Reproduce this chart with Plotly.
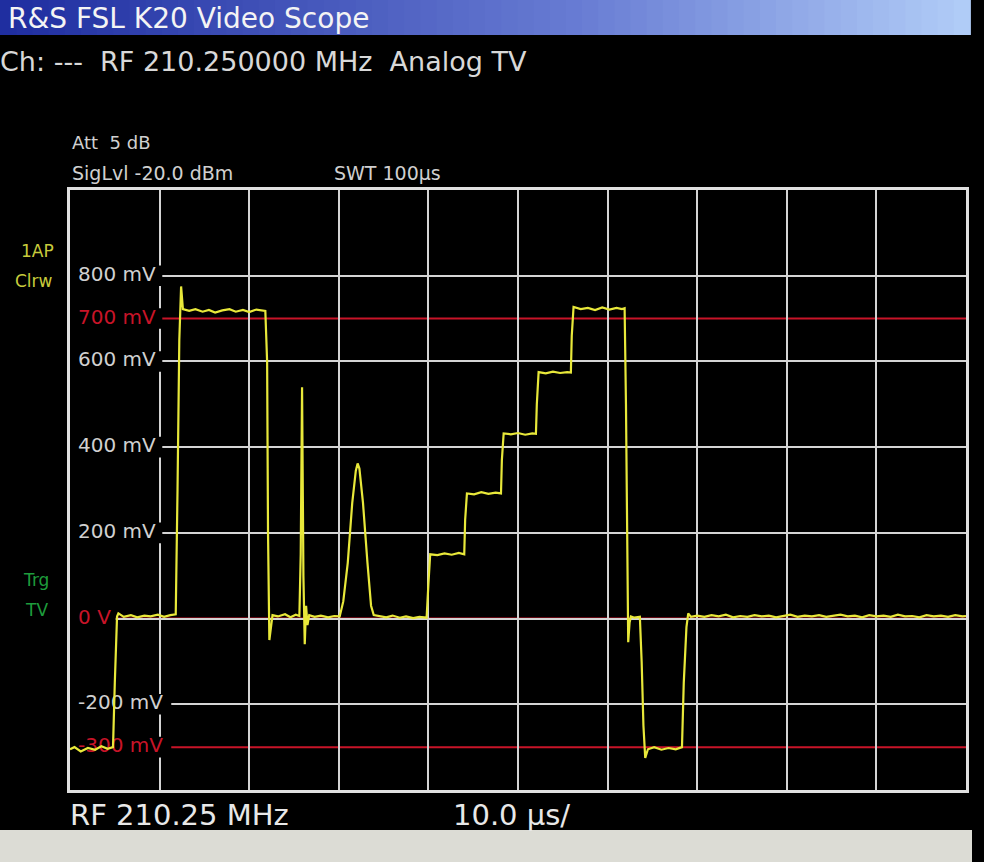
import plotly.graph_objects as go

# Trace: time in us, level in mV
t_us = [0, 0.5, 1.2, 2.0, 2.8, 3.5, 4.2, 4.8,
        5.0, 5.25, 5.4,
        6.0, 6.8, 7.5, 8.3, 9.0, 9.8, 10.5, 11.2, 11.8,
        12.0, 12.2, 12.4, 12.6,
        13.3, 14.0, 14.8, 15.5, 16.2, 17.0, 17.8, 18.5, 19.3, 20.0, 20.8, 21.5, 21.8,
        22.0, 22.1, 22.25, 22.4, 22.6,
        23.2, 24.0, 24.6, 25.2, 25.6,
        25.75, 25.9, 26.05, 26.2, 26.35, 26.5, 26.7,
        27.3, 28.0, 28.8, 29.5, 30.1,
        30.5, 31.0, 31.5, 31.9, 32.1, 32.3, 32.7, 33.2, 33.6, 33.9,
        34.5, 35.3, 36.0, 36.8, 37.5, 38.3, 39.0, 39.8,
        40.0, 40.2, 41.0, 41.8, 42.6, 43.4, 44.0,
        44.1, 44.3, 45.1, 45.9, 46.7, 47.5, 48.1,
        48.2, 48.4, 49.2, 50.0, 50.8, 51.6, 52.0,
        52.1, 52.3, 53.1, 53.9, 54.7, 55.5, 55.9,
        56.0, 56.2, 57.0, 57.8, 58.6, 59.4, 60.2, 61.0, 61.6, 61.9,
        62.05, 62.2, 62.3, 62.45, 62.6, 63.0, 63.6,
        63.8, 64.0, 64.2, 64.5, 65.2, 66.0, 66.8, 67.6, 68.3,
        68.5, 68.8, 69.0, 69.3,
        70.0, 70.8, 71.6, 72.4, 73.2, 74.0, 74.8, 75.6, 76.4, 77.2, 78.0, 78.8,
        79.6, 80.4, 81.2, 82.0, 82.8, 83.6, 84.4, 85.2, 86.0, 86.8, 87.6, 88.4,
        89.2, 90.0, 90.8, 91.6, 92.4, 93.2, 94.0, 94.8, 95.6, 96.4, 97.2, 98.0,
        98.8, 99.6, 100.0]
v_mv = [-305, -300, -310, -302, -306, -298, -304, -300,
        -150, 5, 12,
        4, 8, 3, 7, 5, 9, 4, 8, 10,
        300, 650, 775, 722,
        718, 722, 716, 720, 714, 719, 722, 716, 720, 715, 721, 719, 718,
        600, 200, -50, -20, 8,
        5, 10, 3, 9, 6,
        150, 540, 100, -60, 30, -15, 8,
        4, 7, 3, 6, 5,
        40, 130, 270, 345, 362, 350, 270, 130, 30, 8,
        6, 3, 7, 2, 5, 1, 4, 2,
        80, 150, 148, 152, 149, 153, 150,
        230, 292, 290, 295, 291, 294, 292,
        370, 432, 430, 433, 429, 432, 431,
        500, 575, 572, 576, 573, 575, 574,
        660, 727, 722, 725, 720, 726, 721, 725, 722, 724,
        500, 100, -55, -10, 5, 2, 4,
        -100, -250, -325, -305, -300, -306, -302, -305, -300,
        -150, -20, 12, 4,
        7, 4, 8, 5, 9, 3, 6, 4, 8, 5, 7, 3,
        6, 9, 4, 7, 5, 8, 4, 6, 9, 5, 7, 3,
        8, 5, 7, 4, 9, 5, 6, 3, 8, 5, 7, 4,
        8, 5, 6]

grid_vals = [800, 600, 400, 200, -200]
grid_text = ["800 mV", "600 mV", "400 mV", "200 mV", "-200 mV"]
ref_vals = [700, 0, -300]
ref_text = ["700 mV", "0 V", "-300 mV"]

YELLOW = "#e8e83a"
RED = "#c81428"
GRID = "#d4d4d4"
FONT = "DejaVu Sans"

fig = go.Figure()

# level labels as text traces so the trace can run over them
fig.add_trace(go.Scatter(x=[0.9] * len(grid_vals), y=grid_vals, text=grid_text,
                         mode="text", textposition="middle right",
                         textfont=dict(family=FONT, size=20, color="#d0d0d0"),
                         hoverinfo="skip"))
fig.add_trace(go.Scatter(x=[0.9] * len(ref_vals), y=ref_vals, text=ref_text,
                         mode="text", textposition="middle right",
                         textfont=dict(family=FONT, size=20, color=RED),
                         hoverinfo="skip"))
fig.add_trace(go.Scatter(x=t_us, y=v_mv, mode="lines",
                         line=dict(color=YELLOW, width=2.2), hoverinfo="skip"))

# red reference lines
for v in ref_vals:
    fig.add_shape(type="line", xref="paper", x0=0, x1=1, y0=v, y1=v,
                  line=dict(color=RED, width=2), layer="between")

# black patches behind the level labels
label_w = {"800 mV": 9.4, "600 mV": 9.4, "400 mV": 9.4, "200 mV": 9.4,
           "-200 mV": 10.4, "700 mV": 9.4, "0 V": 4.2, "-300 mV": 10.4}
for v, s in zip(grid_vals + ref_vals, grid_text + ref_text):
    fig.add_shape(type="rect", x0=0, x1=0.9 + label_w[s], y0=v - 24, y1=v + 24,
                  fillcolor="black", line_width=0, layer="between")

# title bar gradient
n = 60
stops = [(0.0, (30, 45, 160)), (0.6, (105, 125, 212)), (1.0, (178, 206, 248))]
x_left, x_right = -70 / 896, (970 - 70) / 896
for i in range(n):
    f = (i + 0.5) / n
    for (a, ca), (b, cb) in zip(stops[:-1], stops[1:]):
        if a <= f <= b:
            k = (f - a) / (b - a)
            c = [int(ca[j] + (cb[j] - ca[j]) * k) for j in range(3)]
            break
    fig.add_shape(type="rect", xref="paper", yref="paper",
                  x0=x_left + (x_right - x_left) * i / n,
                  x1=x_left + (x_right - x_left) * (i + 1) / n + 0.001,
                  y0=(790 - 35) / 600, y1=(790 + 2) / 600,
                  fillcolor=f"rgb({c[0]},{c[1]},{c[2]})", line_width=0, layer="below")

# grey status band at the bottom
fig.add_shape(type="rect", xref="paper", yref="paper",
              x0=-70 / 896, x1=(972 - 70) / 896, y0=(790 - 864) / 600, y1=(790 - 830) / 600,
              fillcolor="#dcdcd5", line_width=0, layer="below")


def px(x, y):
    return (x - 70) / 896, (790 - y) / 600


def note(text, x, y, size, color, anchor="left"):
    xp, yp = px(x, y)
    fig.add_annotation(text=text, x=xp, y=yp, xref="paper", yref="paper",
                       xanchor=anchor, yanchor="middle", showarrow=False,
                       font=dict(family=FONT, size=size, color=color))


note("R&S FSL K20 Video Scope", 6, 18, 28, "#f4f4f4")
note("Ch: ---  RF 210.250000 MHz  Analog TV", -2, 62, 27, "#d8d8d8")
note("Att  5 dB", 70, 143, 18, "#d0d0d0")
note("SigLvl -20.0 dBm", 70, 173, 19, "#d0d0d0")
note("SWT 100µs", 332, 173, 19, "#d0d0d0")
note("1AP", 37, 251, 17, "#c8cc3c", "center")
note("Clrw", 34, 281, 17, "#c8cc3c", "center")
note("Trg", 36, 580, 17, "#1e9c3c", "center")
note("TV", 36, 610, 17, "#1e9c3c", "center")
note("RF 210.25 MHz", 68, 815, 29, "#e8e8e8")
note("10.0 µs/", 451, 815, 29, "#e8e8e8")

fig.update_xaxes(range=[0, 100], dtick=10, tick0=0, showgrid=True, gridcolor=GRID,
                 gridwidth=2, showticklabels=False, zeroline=False, showline=True,
                 linecolor="#e0e0e0", linewidth=3, mirror=True, ticks="")
fig.update_yaxes(range=[-400, 1000], dtick=200, tick0=0, showgrid=True, gridcolor=GRID,
                 gridwidth=2, showticklabels=False, zeroline=False, showline=True,
                 linecolor="#e0e0e0", linewidth=3, mirror=True, ticks="")

fig.update_layout(width=984, height=862, autosize=False, showlegend=False,
                  paper_bgcolor="black", plot_bgcolor="black",
                  margin=dict(l=70, r=18, t=190, b=72))

# drop the default page margin so the figure fills the window
fig.write_html("out.html", config={"displayModeBar": False},
               post_script="document.body.style.margin='0';")
